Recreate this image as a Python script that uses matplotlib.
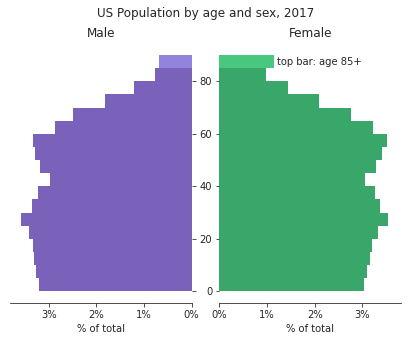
import numpy as np
import matplotlib
matplotlib.use("Agg")
import matplotlib.pyplot as plt
from matplotlib.ticker import PercentFormatter

# --- data: % of total US population, 5-year age groups (last one is 85+) ---
age_start = [0, 5, 10, 15, 20, 25, 30, 35, 40, 45, 50, 55, 60, 65, 70, 75, 80, 85]
male_pct = [3.20, 3.26, 3.31, 3.33, 3.41, 3.58, 3.35, 3.22, 2.97, 3.18,
            3.28, 3.33, 2.87, 2.49, 1.82, 1.21, 0.77, 0.68]
female_pct = [3.03, 3.10, 3.16, 3.20, 3.33, 3.54, 3.37, 3.26, 3.05, 3.29,
              3.41, 3.52, 3.22, 2.76, 2.09, 1.44, 0.98, 1.15]
bin_width = 5

# --- colours ---
male_col, male_top = '#7a62bb', '#9283dd'
female_col, female_top = '#3aa76a', '#48c87e'
ink = '#262626'

plt.rcParams['text.color'] = ink
plt.rcParams['axes.labelcolor'] = ink
plt.rcParams['xtick.color'] = ink
plt.rcParams['ytick.color'] = ink
plt.rcParams['axes.edgecolor'] = ink

fig, (ax_m, ax_f) = plt.subplots(1, 2, figsize=(411 / 72, 341 / 72), dpi=72)
fig.subplots_adjust(left=0.024, right=0.976, bottom=0.111, top=0.873, wspace=0.152)

xmax = max(max(male_pct), max(female_pct)) * 1.065

for ax, vals, col, top_col, title in [(ax_m, male_pct, male_col, male_top, 'Male'),
                                      (ax_f, female_pct, female_col, female_top, 'Female')]:
    colors = [col] * (len(vals) - 1) + [top_col]
    ax.barh(age_start, vals, height=bin_width, align='edge', color=colors)
    ax.set_xlim(0, xmax)
    ax.set_title(title)
    ax.set_xlabel('% of total')
    ax.xaxis.set_major_formatter(PercentFormatter(xmax=100, decimals=0))
    ax.set_xticks([0, 1, 2, 3])
    ax.set_yticks([0, 20, 40, 60, 80])
    for side in ['left', 'top', 'right']:
        ax.spines[side].set_visible(False)

# male side mirrored, ticks towards the centre
ax_m.invert_xaxis()
ax_m.yaxis.tick_right()
ax_m.tick_params(axis='y', labelright=False)

ax_f.yaxis.tick_left()
ax_f.text(female_pct[-1] + 0.05, age_start[-1] + bin_width / 2, 'top bar: age 85+',
          va='center', ha='left')

fig.suptitle('US Population by age and sex, 2017')
fig.savefig('out.png', dpi=72)
